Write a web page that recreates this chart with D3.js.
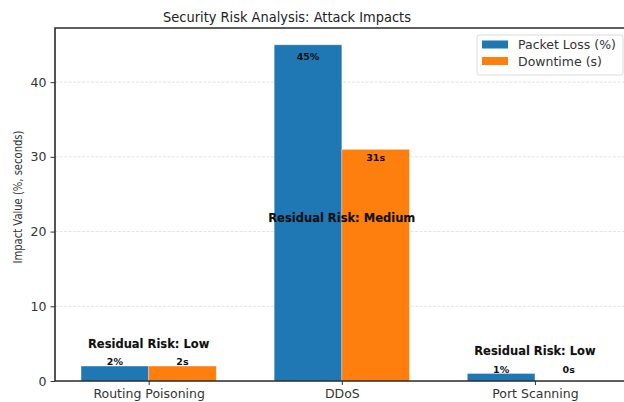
<!DOCTYPE html>
<html>
<head>
<meta charset="utf-8">
<script src="https://cdn.jsdelivr.net/npm/d3@7"></script>
<style>
  html, body { margin: 0; padding: 0; background: #fff; }
  svg { display: block; font-family: "DejaVu Sans", sans-serif; }
</style>
</head>
<body>
<svg id="chart" width="624" height="402"></svg>
<script>
// Attack categories and measured impacts
const categories = ["Routing Poisoning", "DDoS", "Port Scanning"];
const packetLoss = [2, 45, 1];      // percent
const downtime = [2, 31, 0];        // seconds
const residualRisk = ["Low", "Medium", "Low"];
const yTicks = [0, 10, 20, 30, 40];
const seriesNames = ["Packet Loss (%)", "Downtime (s)"];
const seriesUnits = ["%", "s"];
const seriesColors = ["#1f77b4", "#ff7f0e"];

const svg = d3.select("#chart");
const plot = { left: 55, right: 628.6, top: 28, bottom: 381 };
const barW = 0.35;

const x = d3.scaleLinear().domain([-0.485, 2.485]).range([plot.left, plot.right]);
const y = d3.scaleLinear().domain([0, 47.25]).range([plot.bottom, plot.top]);

// grid lines
svg.append("g")
  .selectAll("line")
  .data(yTicks.filter(t => t > 0))
  .join("line")
  .attr("x1", plot.left).attr("x2", plot.right)
  .attr("y1", d => y(d)).attr("y2", d => y(d))
  .attr("stroke", "#d4d4d4")
  .attr("stroke-width", 0.8)
  .attr("stroke-dasharray", "3,1.5")
  .attr("opacity", 0.8);

// bars
const series = [packetLoss, downtime];
const barsG = svg.append("g");
series.forEach((vals, s) => {
  barsG.selectAll(null)
    .data(vals)
    .join("rect")
    .attr("x", (d, i) => x(i + (s === 0 ? -barW : 0)))
    .attr("width", x(barW) - x(0))
    .attr("y", d => y(d))
    .attr("height", d => y(0) - y(d))
    .attr("fill", seriesColors[s])
    .attr("stroke", "rgba(255,255,255,0.35)")
    .attr("stroke-width", 0.8);
});

// value labels
series.forEach((vals, s) => {
  svg.append("g")
    .selectAll("text")
    .data(vals)
    .join("text")
    .attr("x", (d, i) => x(i + (s === 0 ? -barW / 2 : barW / 2)))
    .attr("y", d => d >= 5 ? y(d * 0.965) : y(Math.max(d, 1) + 0.55))
    .attr("dy", "0.36em")
    .attr("text-anchor", "middle")
    .attr("font-size", 9.5)
    .attr("font-weight", "bold")
    .attr("fill", "#111")
    .text(d => d + seriesUnits[s]);
});

// residual risk annotations
svg.append("g")
  .selectAll("text")
  .data(categories)
  .join("text")
  .attr("x", (d, i) => x(i))
  .attr("y", (d, i) => {
    const m = Math.max(packetLoss[i], downtime[i]);
    return m < 10 ? y(m + 3) : y(m / 2) + 5;
  })
  .attr("dy", "0.36em")
  .attr("text-anchor", "middle")
  .attr("font-size", 11.5)
  .attr("font-weight", "bold")
  .attr("fill", "#111")
  .attr("stroke", "rgba(0,0,0,0.25)")
  .attr("stroke-width", 0.4)
  .text((d, i) => "Residual Risk: " + residualRisk[i]);

// axes
const xAxis = d3.axisBottom(x)
  .tickValues(d3.range(categories.length))
  .tickFormat(i => categories[i])
  .tickSize(4).tickPadding(4);
const gx = svg.append("g")
  .attr("transform", `translate(0,${plot.bottom})`)
  .call(xAxis);
gx.select(".domain").remove();
gx.selectAll("text").attr("font-size", 12.5).attr("fill", "#333").attr("font-family", "DejaVu Sans");
gx.selectAll("line").attr("stroke", "#333");

const yAxis = d3.axisLeft(y).tickValues(yTicks).tickFormat(d3.format("d")).tickSize(4.5).tickPadding(4);
const gy = svg.append("g")
  .attr("transform", `translate(${plot.left},0)`)
  .call(yAxis);
gy.select(".domain").remove();
gy.selectAll("text").attr("font-size", 12.5).attr("fill", "#333").attr("font-family", "DejaVu Sans");
gy.selectAll("line").attr("stroke", "#333");

// spines: left, top, bottom
const spine = svg.append("g").attr("stroke", "#2a2a2a").attr("stroke-width", 1.6).attr("fill", "none");
spine.append("path").attr("d", `M${plot.right},${plot.top}H${plot.left}V${plot.bottom}H${plot.right}`);

// title
svg.append("text")
  .attr("transform", "translate(287,21.5) scale(1,1.1)")
  .attr("text-anchor", "middle")
  .attr("font-size", 13)
  .attr("fill", "#222")
  .text("Security Risk Analysis: Attack Impacts");

// y label
svg.append("text")
  .attr("transform", "translate(21.5,197) rotate(-90) scale(1,1.15)")
  .attr("text-anchor", "middle")
  .attr("font-size", 10)
  .attr("fill", "#333")
  .text("Impact Value (%, seconds)");

// legend
const lg = svg.append("g");
lg.append("rect")
  .attr("x", 477).attr("y", 35).attr("width", 146).attr("height", 40)
  .attr("rx", 2).attr("fill", "#fff").attr("fill-opacity", 0.85)
  .attr("stroke", "#d0d0d0").attr("stroke-width", 0.8);
seriesNames.forEach((name, s) => {
  const cy = 44.5 + s * 16.5;
  lg.append("rect")
    .attr("x", 482).attr("y", cy - 4).attr("width", 26).attr("height", 8)
    .attr("fill", seriesColors[s]);
  lg.append("text")
    .attr("x", 518).attr("y", cy).attr("dy", "0.36em")
    .attr("font-size", 12.5).attr("fill", "#333")
    .text(name);
});
</script>
</body>
</html>
